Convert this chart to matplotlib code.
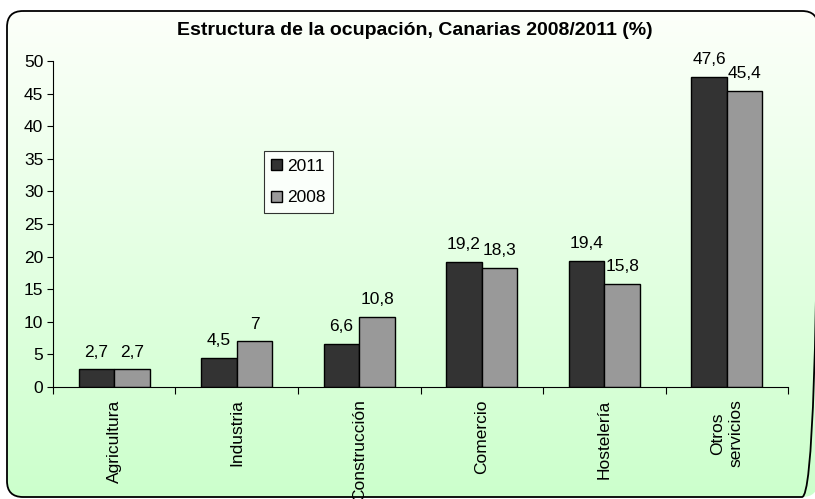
import numpy as np
import matplotlib.pyplot as plt
from matplotlib.patches import FancyBboxPatch

# datos: estructura de la ocupacion en Canarias (%)
sectores = ['Agricultura', 'Industria', 'Construcción', 'Comercio', 'Hostelería', 'Otros\nservicios']
v2011 = [2.7, 4.5, 6.6, 19.2, 19.4, 47.6]
v2008 = [2.7, 7.0, 10.8, 18.3, 15.8, 45.4]
etiquetas_2011 = ['2,7', '4,5', '6,6', '19,2', '19,4', '47,6']
etiquetas_2008 = ['2,7', '7', '10,8', '18,3', '15,8', '45,4']

plt.rcParams['font.family'] = ['Liberation Sans', 'DejaVu Sans']
fs = 12.5

fig = plt.figure(figsize=(8.15, 4.99), dpi=100)
fig.patch.set_facecolor('white')

# fondo degradado con marco redondeado
bg = fig.add_axes([0, 0, 1, 1], zorder=0)
bg.set_xlim(0, 815)
bg.set_ylim(499, 0)
bg.axis('off')
marco = FancyBboxPatch((7, 11), 811, 486, boxstyle='round,pad=0,rounding_size=16',
                       facecolor='none', edgecolor='black', linewidth=1.3, zorder=3)
bg.add_patch(marco)
grad = np.linspace(0, 1, 256).reshape(-1, 1)
top_col = np.array([0.99, 1.0, 0.98])
bot_col = np.array([0.80, 1.0, 0.80])
img = top_col + (bot_col - top_col) * grad[:, :, None]
im = bg.imshow(img, extent=[7, 818, 497, 11], aspect='auto', zorder=1)
im.set_clip_path(marco)

ax = fig.add_axes([0.065, 0.2244, 0.902, 0.6534], zorder=1)
ax.patch.set_alpha(0)

x = np.arange(len(sectores))
w = 0.29
ax.bar(x - w / 2, v2011, w, color='#333333', edgecolor='black', linewidth=1, label='2011')
ax.bar(x + w / 2, v2008, w, color='#999999', edgecolor='black', linewidth=1, label='2008')

for xi, v, t in zip(x, v2011, etiquetas_2011):
    ax.annotate(t, (xi - w / 2, v), xytext=(0, 7), textcoords='offset points',
                ha='center', va='bottom', fontsize=fs)
for xi, v, t in zip(x, v2008, etiquetas_2008):
    ax.annotate(t, (xi + w / 2, v), xytext=(0, 7), textcoords='offset points',
                ha='center', va='bottom', fontsize=fs)

ax.set_xlim(-0.5, len(sectores) - 0.5)
ax.set_ylim(0, 50)
ax.set_yticks(range(0, 51, 5))
ax.tick_params(axis='y', labelsize=fs, length=4, direction='out', pad=3)

ax.set_xticks(np.arange(-0.5, len(sectores), 1))
ax.set_xticklabels([])
ax.set_xticks(x, minor=True)
ax.set_xticklabels(sectores, minor=True, rotation=90, fontsize=fs, va='top',
                   ha='center', multialignment='center', linespacing=1.3)
ax.tick_params(axis='x', which='major', length=5, direction='out')
ax.tick_params(axis='x', which='minor', length=0, pad=9)

for s in ['top', 'right']:
    ax.spines[s].set_visible(False)

leg = ax.legend(loc='upper left', bbox_to_anchor=(0.2865, 0.724), fontsize=fs,
                frameon=True, fancybox=False, edgecolor='black', handlelength=0.6,
                handleheight=0.6, handletextpad=0.3, borderpad=0.45, labelspacing=0.95,
                borderaxespad=0)
leg.get_frame().set_linewidth(0.8)

fig.text(0.509, 0.938, 'Estructura de la ocupación, Canarias 2008/2011 (%)',
         ha='center', va='center', fontsize=14, fontweight='bold')

fig.savefig('out.png', dpi=100)
